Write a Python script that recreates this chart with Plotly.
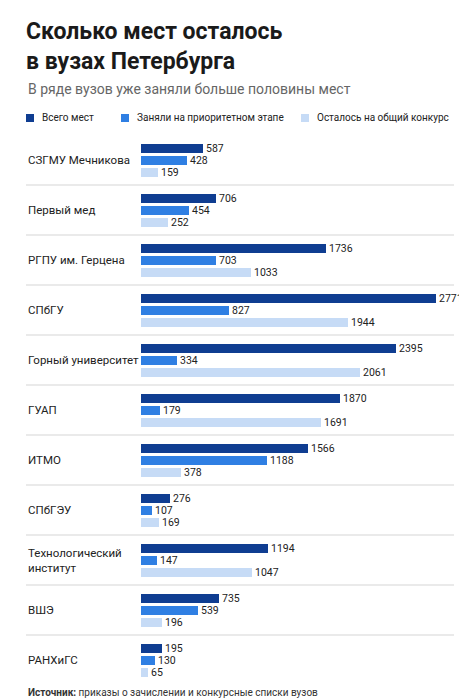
import plotly.graph_objects as go

categories = ["СЗГМУ Мечникова", "Первый мед", "РГПУ им. Герцена", "СПбГУ", "Горный университет",
              "ГУАП", "ИТМО", "СПбГЭУ", "Технологический<br>институт", "ВШЭ", "РАНХиГС"]
total = [587, 706, 1736, 2771, 2395, 1870, 1566, 276, 1194, 735, 195]
priority = [428, 454, 703, 827, 334, 179, 1188, 107, 147, 539, 130]
remaining = [159, 252, 1033, 1944, 2061, 1691, 378, 169, 1047, 196, 65]
series_names = ["Всего мест", "Заняли на приоритетном этапе", "Осталось на общий конкурс"]
colors = ["#0f3d91", "#2f7fe3", "#c6dbf6"]
offsets = [-0.24, 0, 0.24]

W, H = 467, 700
L, T, B = 133, 127, 23
plot_h = H - T - B
plot_w = W - L
def py(p):  # pixel y -> paper
    return (H - B - p) / plot_h
def px(p):
    return (p - L) / plot_w

fig = go.Figure()
for vals, off, col, name in zip([total, priority, remaining], offsets, colors, series_names):
    fig.add_trace(go.Bar(
        x=vals, y=[i + off for i in range(len(categories))], orientation="h",
        width=0.18, marker=dict(color=col, line=dict(width=0)), name=name,
        text=[str(v) for v in vals], textposition="outside", cliponaxis=False,
        constraintext="none",
        textfont=dict(size=10.5, color="#222"), showlegend=False))

shapes = []
for i in range(len(categories) - 1):
    shapes.append(dict(type="line", xref="paper", yref="y", x0=px(18), x1=px(446),
                       y0=i + 0.5, y1=i + 0.5, line=dict(color="#d5d5d5", width=1)))
ann = []
for i, c in enumerate(categories):
    ann.append(dict(text=c, xref="paper", yref="y", x=px(18), y=i, xanchor="left", yanchor="middle",
                    showarrow=False, align="left", font=dict(size=11.5, color="#222")))
ann.append(dict(text="<b>Сколько мест осталось<br>в вузах Петербурга</b>", xref="paper", yref="paper",
                x=px(16), y=py(8), xanchor="left", yanchor="top", showarrow=False, align="left",
                font=dict(size=23, color="#1a1a1a")))
ann.append(dict(text="В ряде вузов уже заняли больше половины мест", xref="paper", yref="paper",
                x=px(18), y=py(81), xanchor="left", yanchor="middle", showarrow=False,
                font=dict(size=14, color="#666")))
leg_x = [18, 113, 293]
for lx, col, name in zip(leg_x, colors, series_names):
    shapes.append(dict(type="rect", xref="paper", yref="paper", x0=px(lx), x1=px(lx + 8),
                       y0=py(114), y1=py(106), fillcolor=col, line=dict(width=0)))
    ann.append(dict(text=name, xref="paper", yref="paper", x=px(lx + 14), y=py(110),
                    xanchor="left", yanchor="middle", showarrow=False, font=dict(size=10, color="#222")))
ann.append(dict(text="<b>Источник:</b> приказы о зачислении и конкурсные списки вузов", xref="paper",
                yref="paper", x=px(18), y=py(684), xanchor="left", yanchor="middle", showarrow=False,
                font=dict(size=10, color="#333")))

fig.update_layout(
    width=W, height=H, margin=dict(l=L, r=0, t=T, b=B), plot_bgcolor="white", paper_bgcolor="white",
    font=dict(family="Roboto"), bargap=0, barmode="overlay",
    xaxis=dict(range=[0, 2771 * plot_w / 295], visible=False, fixedrange=True),
    yaxis=dict(range=[10.5, -0.5], visible=False, fixedrange=True),
    shapes=shapes, annotations=ann)
fig.write_html("out.html")
